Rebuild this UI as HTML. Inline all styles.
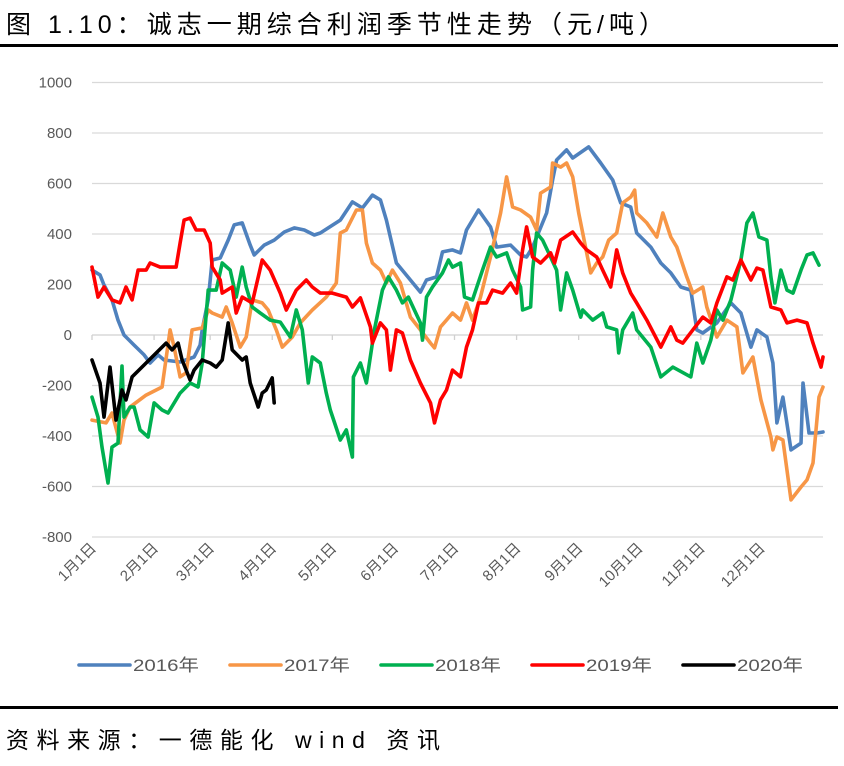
<!DOCTYPE html>
<html><head><meta charset="utf-8"><style>
body{margin:0;background:#fff;width:844px;height:761px;overflow:hidden;font-family:"Liberation Sans","Noto Sans CJK SC",sans-serif}
</style></head><body>
<svg id="c" width="844" height="761" xmlns="http://www.w3.org/2000/svg">
<text x="6" y="33" font-size="25" fill="#000" textLength="658" lengthAdjust="spacing" font-family="Liberation Sans, Noto Sans CJK SC, sans-serif">图 1.10：诚志一期综合利润季节性走势（元/吨）</text>
<rect x="0" y="44" width="838" height="3" fill="#000"/>
<g id="grid"></g><g id="series"></g><g id="legend"></g>
<rect x="0" y="706" width="838" height="3" fill="#000"/>
<text x="6" y="748" font-size="23" fill="#000" textLength="434" lengthAdjust="spacing" font-family="Liberation Sans, Noto Sans CJK SC, sans-serif">资料来源：一德能化  wind 资讯</text>
</svg>
<script>
const yTicks=[1000,800,600,400,200,0,-200,-400,-600,-800];
const monthLabels=["1月1日","2月1日","3月1日","4月1日","5月1日","6月1日","7月1日","8月1日","9月1日","10月1日","11月1日","12月1日"];
const monthDays=[0,31,59,90,120,151,181,212,243,273,304,334];
const seriesNames=["2016年","2017年","2018年","2019年","2020年"];
const seriesColors=["#4F81BD","#F79646","#00B050","#FF0000","#000000"];
const d2016=[0,4,6,10,13,16,21,26,29,33,36,44,51,54,55,58,60,64,68,71,75,79,81,86,91,96,101,106,111,114,124,130,135,140,144,147,152,159,164,167,172,175,180,184,187,193,199,202,209,214,217,220,227,230,232,237,240,248,254,260,264,269,272,279,284,289,294,299,302,305,312,319,324,329,332,337,340,342,345,349,354,355,358,362,365];
const v2016=[257,238,198,139,59,0,-40,-79,-111,-79,-99,-107,-87,-40,20,139,297,305,376,436,444,356,317,356,376,408,424,416,396,404,455,527,503,554,535,455,285,218,170,218,230,329,337,325,416,495,428,348,356,317,309,348,483,614,693,733,701,745,681,614,523,507,404,348,285,246,190,178,20,8,48,127,87,-48,20,-8,-111,-348,-246,-455,-428,-190,-388,-388,-384];
const d2017=[0,7,10,14,16,19,27,35,39,41,44,47,50,55,58,60,65,67,70,74,77,80,85,88,92,95,100,104,110,117,122,124,127,132,135,137,140,144,147,150,154,159,164,169,171,174,177,180,184,187,190,194,199,204,207,210,214,219,222,224,229,230,234,237,240,243,249,252,255,258,262,265,269,271,272,277,282,285,289,292,297,300,305,307,312,317,322,325,330,334,339,340,342,345,349,354,357,360,363,365];
const v2017=[-337,-348,-309,-428,-337,-285,-238,-206,20,-48,-166,-150,20,28,99,87,71,111,48,-48,-8,139,127,99,20,-48,-8,48,99,150,206,404,416,495,495,364,285,257,206,257,206,71,20,-32,-51,32,59,87,59,127,59,150,309,483,626,507,495,467,416,562,586,681,665,681,626,483,246,285,309,376,404,523,546,574,483,444,388,483,388,348,230,166,190,111,-8,59,32,-150,-87,-257,-404,-455,-404,-416,-653,-602,-574,-507,-246,-206];
const d2018=[0,3,5,8,10,13,15,16,19,21,24,28,31,35,38,44,49,53,55,58,62,65,69,72,75,77,80,84,89,94,99,102,105,108,110,114,117,119,124,127,130,130.5,134,137,141,145,148,152,155,158,164,165,167,170,175,178,180,184,186,190,195,199,202,207,210,214,215,219,220,222,225,229,232,234,237,240,244,245,250,255,257,262,263,265,270,272,279,284,290,299,302,305,309,312,315,319,324,327,330,333,337,339,341,344,347,350,354,357,360,363];
const v2018=[-246,-325,-444,-586,-444,-428,-123,-325,-285,-285,-376,-404,-269,-297,-309,-230,-190,-206,-111,178,178,285,257,150,269,190,111,87,59,51,-8,99,20,-190,-87,-111,-230,-297,-416,-376,-483,-166,-111,-190,20,178,230,178,127,150,48,-20,150,190,246,297,269,285,150,139,257,348,309,325,257,190,99,111,257,404,376,309,257,99,246,178,71,99,59,87,32,20,-71,20,87,20,-48,-166,-127,-166,-32,-111,-20,99,59,139,297,444,483,388,376,230,127,257,178,166,257,317,325,277];
const d2019=[0,3,6,10,14,17,20,23,27,29,34,42,44,46,49,52,56,59,60,64,65,70,72,75,80,85,89,94,97,102,107,110,114,120,127,130,134,139,140,144,147,149,152,155,159,164,169,171,174,177,180,184,187,190,193,197,200,205,209,212,215,217,220,224,229,231,234,240,244,247,252,255,259,262,265,269,272,277,284,289,292,295,300,305,309,312,317,320,324,329,332,335,339,344,347,352,357,360,364,365];
const v2019=[269,150,190,139,127,190,139,257,257,285,269,269,364,455,463,416,416,364,269,218,166,190,87,150,127,297,257,166,99,178,218,190,166,166,150,111,147,32,-32,48,20,-139,20,8,-99,-190,-269,-348,-257,-218,-139,-166,-48,20,127,127,178,166,206,166,337,428,309,285,325,285,376,408,364,337,309,257,190,337,246,166,127,59,-48,32,-20,-32,20,71,48,127,230,218,297,218,265,257,111,99,48,59,48,-32,-127,-87];
const d2020=[0,4,6,9,12,15,17,20,27,37,40,43,45,49,51,55,59,62,65,68,70,75,77,79,83,85,87,90,91];
const v2020=[-99,-190,-325,-127,-337,-218,-257,-166,-111,-32,-59,-32,-99,-178,-139,-99,-111,-127,-99,48,-59,-99,-87,-190,-285,-230,-218,-170,-269];
const allDays=[d2016,d2017,d2018,d2019,d2020];
const allVals=[v2016,v2017,v2018,v2019,v2020];

const NS="http://www.w3.org/2000/svg";
const X0=92,X1=823,Y0=335,PX=50.5/200;
function xs(d){return X0+d*(X1-X0)/365;}
function ys(v){return Y0-v*PX;}
function mk(t,a,p){const e=document.createElementNS(NS,t);for(const k in a)e.setAttribute(k,a[k]);p.appendChild(e);return e;}
const F="Liberation Sans, Noto Sans CJK SC, sans-serif";
const grid=document.getElementById('grid');
yTicks.forEach(t=>{
  const l=mk('line',{x1:X0,x2:X1,y1:ys(t),y2:ys(t),stroke:t===0?'#d0d0d0':'#d9d9d9','stroke-width':1.3},grid);
  
  
  const tx=mk('text',{x:72,y:ys(t)+5,'text-anchor':'end','font-size':15,fill:'#595959','font-family':F},grid);
  tx.textContent=t;
  
  
});
monthDays.forEach((d,i)=>{
  const x=xs(d);
  const tk=mk('line',{x1:x,x2:x,y1:Y0,y2:Y0+5,stroke:'#d0d0d0','stroke-width':1.3},grid);
  
  
  const tx=mk('text',{x:x+5,y:549,'text-anchor':'end','font-size':15,fill:'#595959','font-family':F,transform:'rotate(-45 '+(x+5)+' 549)'},grid);
  tx.textContent=monthLabels[i];
  
  
});
const sg=document.getElementById('series');
allDays.forEach((ds,i)=>{
  const pts=ds.map((d,j)=>xs(d).toFixed(1)+','+ys(allVals[i][j]).toFixed(1)).join(' ');
  const p=mk('polyline',{points:pts,fill:'none',stroke:seriesColors[i],'stroke-width':3.6,'stroke-linejoin':'round','stroke-linecap':'round'},sg);
  
  
});
const lg=document.getElementById('legend');
seriesNames.forEach((n,i)=>{
  const x=79+i*151;
  const g=mk('g',{},lg);
  
  
  mk('line',{x1:x,x2:x+51,y1:665,y2:665,stroke:seriesColors[i],'stroke-width':3.6,'stroke-linecap':'round'},g);
  const t=mk('text',{x:x+54,y:671,'font-size':17,fill:'#595959','font-family':F,textLength:66,lengthAdjust:'spacingAndGlyphs'},g);
  t.textContent=n;
});
</script>
</body></html>
